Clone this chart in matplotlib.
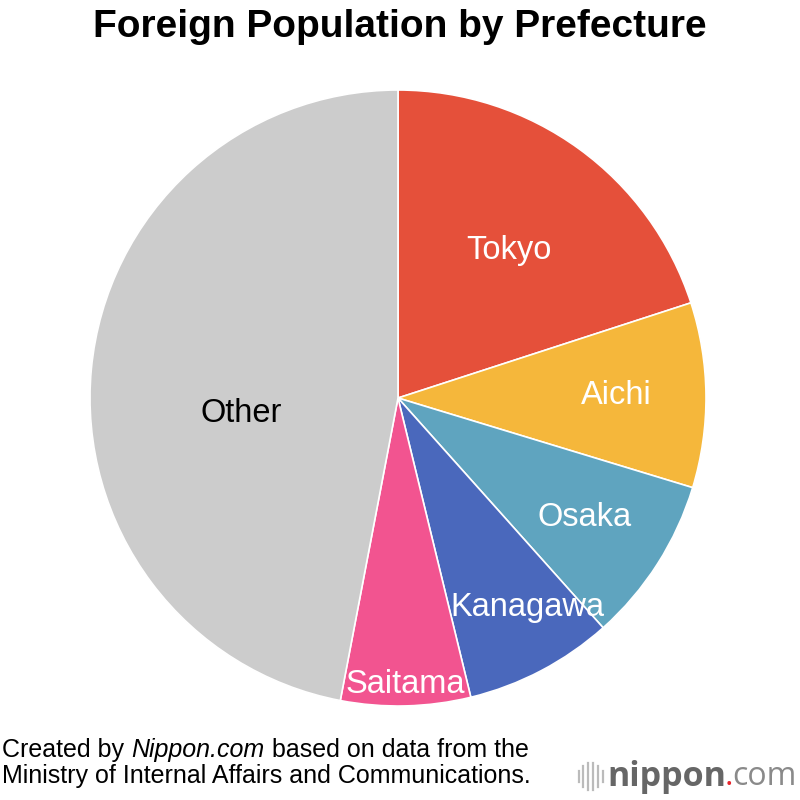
import matplotlib
matplotlib.use("Agg")
import matplotlib.pyplot as plt
import numpy as np

# Dados (percentagem aproximada da população estrangeira)
prefeituras = ["Tokyo", "Aichi", "Osaka", "Kanagawa", "Saitama", "Other"]
valores = [20.0, 9.7, 8.7, 7.8, 6.8, 47.0]

cores = ["#E5503A", "#F5B73B", "#5FA4BF", "#4A68BC", "#F25490", "#CCCCCC"]
cor_texto = ["white", "white", "white", "white", "white", "black"]
raio_label = [0.6, 0.71, 0.72, 0.8, 0.93, 0.51]
desvio_ang = [-1, 0, 0, 4, 0, 11]

plt.rcParams["font.family"] = ["Liberation Sans", "DejaVu Sans"]

fig = plt.figure(figsize=(8, 8), dpi=100)
ax = fig.add_axes([0.1125, 0.1175, 0.77, 0.77])

wedges, _ = ax.pie(valores, colors=cores, startangle=90, counterclock=False,
                   wedgeprops=dict(edgecolor="white", linewidth=1.2))
ax.set_xlim(-1, 1)
ax.set_ylim(-1, 1)
ax.set_aspect("equal")

for w, nome, r, d, c in zip(wedges, prefeituras, raio_label, desvio_ang, cor_texto):
    ang = np.deg2rad((w.theta1 + w.theta2) / 2 + d)
    ax.text(r * np.cos(ang), r * np.sin(ang), nome, ha="center", va="center",
            fontsize=23.5, color=c)

fig.text(0.5, 0.966, "Foreign Population by Prefecture", ha="center", va="center",
         fontsize=28, fontweight="bold")

# Rodapé com parte em itálico
fig.canvas.draw()
rend = fig.canvas.get_renderer()
fs = 18
t1 = fig.text(0.003, 0.062, "Created by ", fontsize=fs, va="center")
bb = t1.get_window_extent(rend)
t2 = fig.text(bb.x1 / 800, 0.062, "Nippon.com", fontsize=fs, style="italic", va="center")
bb = t2.get_window_extent(rend)
fig.text(bb.x1 / 800, 0.062, " based on data from the", fontsize=fs, va="center")
fig.text(0.003, 0.030, "Ministry of Internal Affairs and Communications.", fontsize=fs, va="center")

# Logo (alinhado à direita)
l3 = fig.text(0.996, 0.029, "com", fontsize=23, color="#8A8A8A", va="center", ha="right",
              family="Open Sans")
bb = l3.get_window_extent(rend)
l2 = fig.text(bb.x0 / 800 + 0.001, 0.029, ".", fontsize=23, color="#E8242C", va="center",
              ha="right", family="Open Sans")
bb = l2.get_window_extent(rend)
l1 = fig.text(bb.x0 / 800 + 0.002, 0.029, "nippon", fontsize=24.5, fontweight="bold",
              color="#666666", va="center", ha="right", family="Open Sans")
bb = l1.get_window_extent(rend)
x0 = bb.x0 / 800 - 0.006
hs = [0.014, 0.026, 0.034, 0.034, 0.026, 0.014]
for i, h in enumerate(hs[::-1]):
    x = x0 - i * 0.006
    fig.add_artist(plt.Line2D([x, x], [0.029 - h / 2, 0.029 + h / 2],
                              color="#BBBBBB", lw=1.6, transform=fig.transFigure))

fig.savefig("out.png", dpi=100, facecolor="white")
